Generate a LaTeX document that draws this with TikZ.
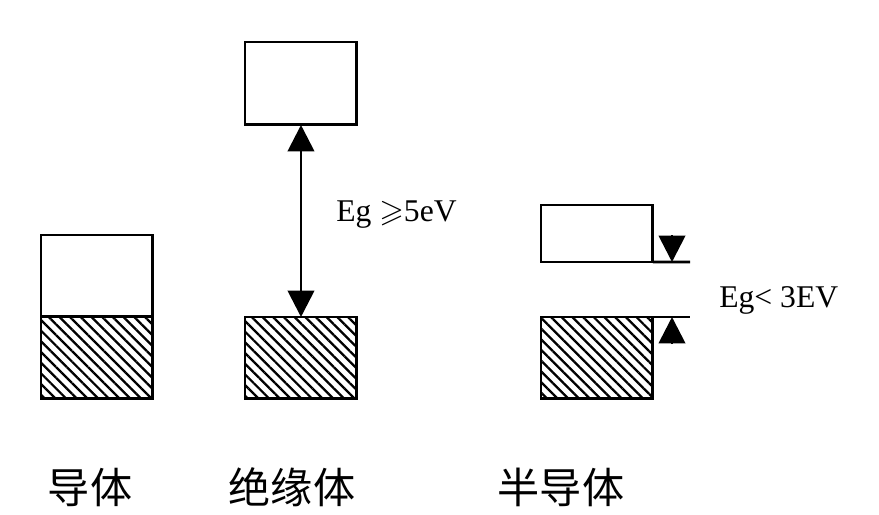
\documentclass[tikz,border=0pt]{standalone}
\usepackage{amssymb}
\usepackage{fontspec}
\setmainfont{Liberation Serif}
\newfontfamily\cjk{Noto Sans CJK SC}
\usetikzlibrary{arrows.meta}
\usetikzlibrary{patterns.meta}
\usetikzlibrary{positioning}
\tikzset{band/.style = {draw, line width=1.7pt, inner sep=0, outer sep=0,
                        minimum width=2.24cm, anchor=north west}}
\tikzset{filled/.style = {band, pattern={Lines[angle=-45, distance=4.3pt, line width=1.3pt]}}}
\tikzset{gaptip/.style = {line width=1.6pt, -{Triangle[length=15pt, width=15pt]}}}
\tikzset{gap/.style = {line width=1.6pt, {Triangle[length=15pt, width=15pt]}-{Triangle[length=15pt, width=15pt]}}}
\tikzset{kind/.style = {font=\cjk\fontsize{24}{28}\selectfont}}
\tikzset{eg/.style = {font=\fontsize{18}{22}\selectfont, right, inner sep=0}}

\begin{document}
\begin{tikzpicture}[x=0.02cm, y=-0.02cm]
    \useasboundingbox (0, 0) rectangle (879, 514);

    % conductor
    \node [band, minimum height=1.64cm] (c_top) at (41, 235) {};
    \node [filled, minimum height=1.64cm] (c_bot) at (41, 317) {};

    % insulator
    \node [band, minimum height=1.66cm] (i_top) at (245, 42) {};
    \node [filled, minimum height=1.64cm] (i_bot) at (245, 317) {};
    \draw [gap] (i_top.south) -- (i_bot.north);
    \node [eg] (i_eg) at (336, 215) {Eg $\geqslant$5eV};

    % semiconductor
    \node [band, minimum height=1.14cm] (s_top) at (541, 205) {};
    \node [filled, minimum height=1.64cm] (s_bot) at (541, 317) {};
    \coordinate (s_top_end) at (690, 262);
    \coordinate (s_bot_end) at (690, 317);
    \draw [line width=1.7pt] (s_top.south east) -- (s_top_end);
    \draw [line width=1.7pt] (s_bot.north east) -- (s_bot_end);
    \coordinate (s_tip1) at (672, 235);
    \coordinate (s_tip2) at (672, 262);
    \coordinate (s_tip3) at (672, 344);
    \coordinate (s_tip4) at (672, 317);
    \draw [gaptip] (s_tip1) -- (s_tip2);
    \draw [gaptip] (s_tip3) -- (s_tip4);
    \node [eg] (s_eg) at (719, 300) {Eg< 3EV};

    \node [kind] (c_name) at (90, 487) {导体};
    \node [kind] (i_name) at (292, 487) {绝缘体};
    \node [kind] (s_name) at (561, 487) {半导体};
  \end{tikzpicture}
\end{document}
